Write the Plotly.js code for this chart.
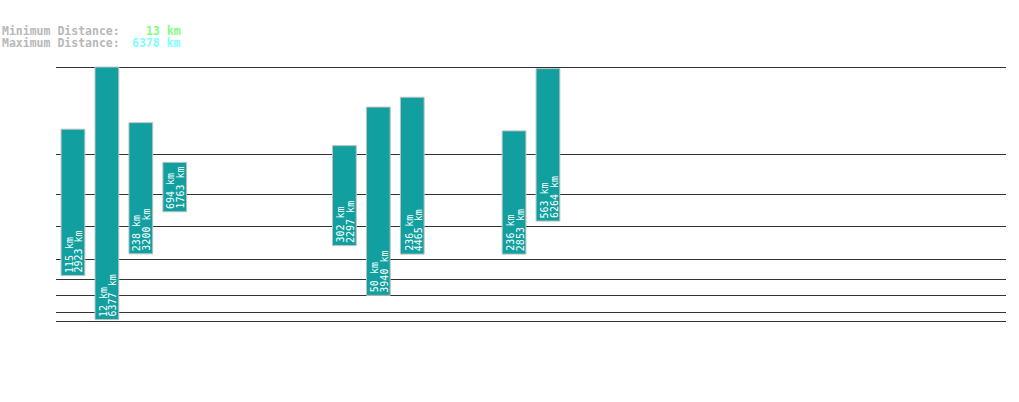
<!DOCTYPE html>
<html>
<head>
<meta charset="utf-8">
<script src="https://cdn.plot.ly/plotly-3.0.1.min.js"></script>
<style>
html,body{margin:0;padding:0;background:#fff;}
#chart{width:1019px;height:402px;}
</style>
</head>
<body>
<div id="chart"></div>
<script>
// Data
const slots = [0, 1, 2, 3, 8, 9, 10, 13, 14];
const minKm = [115, 12, 238, 694, 302, 50, 236, 236, 563];
const maxKm = [2923, 6377, 3200, 1763, 2297, 3940, 4465, 2853, 6264];
const gridKm = [10, 20, 50, 100, 200, 500, 1000, 2000, 6378];
const overallMin = 13;
const overallMax = 6378;

// power scale (exponent 0.3) used by the reference's vertical axis
const P = 0.3;
const sc = v => Math.pow(v, P);

const base = minKm.map(sc);
const len = maxKm.map((v, i) => sc(v) - sc(minKm[i]));

const trace = {
  type: 'bar',
  x: slots,
  y: len,
  base: base,
  width: 0.7,
  marker: {color: '#119f9f', line: {color: '#c0c0c0', width: 1}},
  hoverinfo: 'none'
};

const mono = 'DejaVu Sans Mono, monospace';
const pxX = px => (px - 56) / 950;
const labelFont = {family: mono, size: 10, color: '#ffffff'};

const barLabels = [];
slots.forEach((s, i) => {
  barLabels.push({xref: 'x', yref: 'y', x: s, y: base[i], xanchor: 'center', yanchor: 'bottom',
    xshift: -3.5, yshift: 2, showarrow: false, textangle: -90, text: minKm[i] + ' km', font: labelFont, borderpad: 0});
  barLabels.push({xref: 'x', yref: 'y', x: s, y: base[i], xanchor: 'center', yanchor: 'bottom',
    xshift: 6, yshift: 2, showarrow: false, textangle: -90, text: maxKm[i] + ' km', font: labelFont, borderpad: 0});
});

const hdrFont = c => ({family: mono, size: 11.5, color: c, weight: 'bold'});

const layout = {
  width: 1019, height: 402,
  margin: {l: 56, r: 13, t: 66, b: 79},
  paper_bgcolor: '#ffffff', plot_bgcolor: '#ffffff',
  showlegend: false,
  xaxis: {range: [-0.5, 27.5], showgrid: false, zeroline: false, showticklabels: false, ticks: '', showline: false, fixedrange: true},
  yaxis: {range: [sc(10) - 0.047, sc(6378) + 0.047], tickmode: 'array', tickvals: gridKm.map(sc), showticklabels: false, ticks: '',
          showgrid: true, gridcolor: '#333333', gridwidth: 1, zeroline: false, showline: false, fixedrange: true},
  annotations: barLabels.concat([
    {xref: 'paper', yref: 'paper', x: pxX(0), y: 1 + (66 - 31) / 257, xanchor: 'left', yanchor: 'middle', showarrow: false,
     text: 'Minimum Distance:', font: hdrFont('#b8b8b8')},
    {xref: 'paper', yref: 'paper', x: pxX(0), y: 1 + (66 - 43) / 257, xanchor: 'left', yanchor: 'middle', showarrow: false,
     text: 'Maximum Distance:', font: hdrFont('#b8b8b8')},
    {xref: 'paper', yref: 'paper', x: pxX(183), y: 1 + (66 - 31) / 257, xanchor: 'right', yanchor: 'middle', showarrow: false,
     text: overallMin + ' km', font: hdrFont('#80ff80')},
    {xref: 'paper', yref: 'paper', x: pxX(183), y: 1 + (66 - 43) / 257, xanchor: 'right', yanchor: 'middle', showarrow: false,
     text: overallMax + ' km', font: hdrFont('#80ffff')}
  ])
};

Plotly.newPlot('chart', [trace], layout, {displayModeBar: false, staticPlot: true});
</script>
</body>
</html>
